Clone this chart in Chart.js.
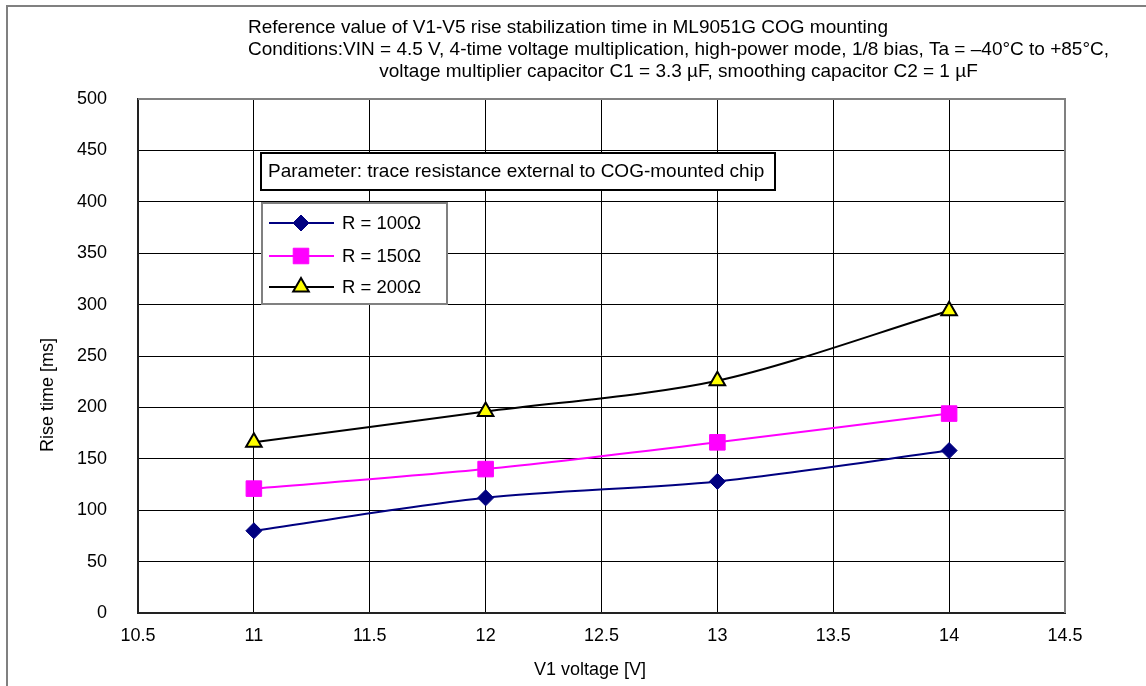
<!DOCTYPE html>
<html>
<head>
<meta charset="utf-8">
<script src="https://cdn.jsdelivr.net/npm/chart.js@4.4.1/dist/chart.umd.min.js"></script>
<style>
  html, body { margin: 0; padding: 0; background: #fff; }
  #wrap { width: 1146px; height: 686px; }
</style>
</head>
<body>
<div id="wrap"><canvas id="myChart" width="1146" height="686"></canvas></div>
<script>
const voltages = [11, 12, 13, 14];
const r100 = [80, 112, 128, 158];
const r150 = [121, 140, 166, 194];
const r200 = [166, 196, 226, 294];
const seriesNames = ["R = 100\u03A9", "R = 150\u03A9", "R = 200\u03A9"];

const titleLines = [
  "Reference value of V1-V5 rise stabilization time in ML9051G COG mounting",
  "Conditions:VIN = 4.5 V, 4-time voltage multiplication, high-power mode, 1/8 bias, Ta = \u201340\u00B0C to +85\u00B0C,",
  "voltage multiplier capacitor C1 = 3.3 \u00B5F, smoothing capacitor C2 = 1 \u00B5F",
];
const paramText = "Parameter: trace resistance external to COG-mounted chip";
const xTitle = "V1 voltage [V]";
const yTitle = "Rise time [ms]";

const FONT = "'Liberation Sans', Arial, sans-serif";

function pts(vals) {
  return voltages.map((v, i) => ({ x: v, y: vals[i] }));
}

const ctx = document.getElementById("myChart");

const dataSets = [
  {
    label: seriesNames[0],
    data: pts(r100),
    borderColor: "#000080",
    backgroundColor: "#000080",
    pointStyle: "rectRot",
    pointRadius: 8,
    pointBorderWidth: 1,
    pointBorderColor: "#000080",
  },
  {
    label: seriesNames[1],
    data: pts(r150),
    borderColor: "#ff00ff",
    backgroundColor: "#ff00ff",
    pointStyle: "rect",
    pointRadius: 11,
    pointBorderWidth: 1,
    pointBorderColor: "#ff00ff",
  },
  {
    label: seriesNames[2],
    data: pts(r200),
    borderColor: "#000000",
    backgroundColor: "#ffff00",
    pointStyle: "triangle",
    pointRadius: 9,
    pointBorderWidth: 2,
    pointBorderColor: "#000000",
  },
];
dataSets.forEach((d) => {
  d.borderWidth = 2;
  d.tension = 0.3;
  d.fill = false;
});

// frame, titles, parameter box and in-plot legend
const decor = {
  id: "decor",
  beforeDraw(chart) {
    const c = chart.ctx;
    c.save();
    c.fillStyle = "#fff";
    c.fillRect(0, 0, chart.width, chart.height);
    c.strokeStyle = "#808080";
    c.lineWidth = 2;
    c.beginPath();
    c.moveTo(7, chart.height);
    c.lineTo(7, 6);
    c.lineTo(chart.width, 6);
    c.stroke();
    c.restore();
  },
  afterDraw(chart) {
    const c = chart.ctx;
    const a = chart.chartArea;
    c.save();
    // top/right plot border
    c.strokeStyle = "#808080";
    c.lineWidth = 2;
    c.beginPath();
    c.moveTo(a.left, a.top);
    c.lineTo(a.right, a.top);
    c.lineTo(a.right, a.bottom);
    c.stroke();

    c.fillStyle = "#000";
    c.font = "19px " + FONT;
    c.textBaseline = "alphabetic";
    c.textAlign = "left";
    c.fillText(titleLines[0], 248, 33);
    c.fillText(titleLines[1], 248, 55);
    const mid = 248 + c.measureText(titleLines[1]).width / 2;
    c.textAlign = "center";
    c.fillText(titleLines[2], mid, 77);

    // axis titles
    c.font = "18px " + FONT;
    c.fillText(xTitle, 590, 675);
    c.save();
    c.translate(53, 452);
    c.rotate(-Math.PI / 2);
    c.textAlign = "left";
    c.fillText(yTitle, 0, 0);
    c.restore();

    // parameter box
    c.fillStyle = "#fff";
    c.fillRect(261, 153, 514, 37);
    c.strokeStyle = "#000";
    c.lineWidth = 2;
    c.strokeRect(261, 153, 514, 37);
    c.fillStyle = "#000";
    c.font = "19px " + FONT;
    c.textAlign = "left";
    c.textBaseline = "middle";
    c.fillText(paramText, 268, 172);

    // legend
    c.fillStyle = "#fff";
    c.fillRect(262, 203, 185, 101);
    c.strokeStyle = "#808080";
    c.lineWidth = 2;
    c.strokeRect(262, 203, 185, 101);
    c.font = "18.5px " + FONT;
    const rows = [223, 256, 287];
    chart.data.datasets.forEach((ds, i) => {
      const y = rows[i];
      c.strokeStyle = ds.borderColor;
      c.lineWidth = 2;
      c.beginPath();
      c.moveTo(269, y);
      c.lineTo(334, y);
      c.stroke();
      c.fillStyle = ds.backgroundColor;
      c.strokeStyle = ds.pointBorderColor;
      c.lineWidth = ds.pointBorderWidth;
      Chart.helpers.drawPoint(c, { pointStyle: ds.pointStyle, radius: ds.pointRadius, borderWidth: ds.pointBorderWidth }, 301, y);
      c.fillStyle = "#000";
      c.fillText(ds.label, 342, y + 1);
    });
    c.restore();
  },
};

new Chart(ctx, {
  type: "line",
  data: { datasets: dataSets },
  options: {
    responsive: false,
    animation: false,
    layout: { padding: { top: 99, right: 81, left: 0, bottom: 0 } },
    plugins: {
      legend: { display: false },
      title: { display: false },
      tooltip: { enabled: false },
    },
    scales: {
      x: {
        type: "linear",
        min: 10.5,
        max: 14.5,
        ticks: {
          stepSize: 0.5,
          color: "#000",
          padding: 12,
          font: { family: FONT, size: 18 },
          callback: (v) => String(Math.round(v * 10) / 10),
        },
        grid: { color: "#000", lineWidth: 1, drawTicks: false },
        border: { color: "#222", width: 2 },
        afterFit(scale) { scale.height = 73; },
      },
      y: {
        min: 0,
        max: 500,
        ticks: {
          stepSize: 50,
          color: "#000",
          padding: 31,
          font: { family: FONT, size: 18 },
        },
        grid: { color: "#000", lineWidth: 1, drawTicks: false },
        border: { color: "#222", width: 2 },
        afterFit(scale) { scale.width = 138; },
      },
    },
  },
  plugins: [decor],
});
</script>
</body>
</html>
